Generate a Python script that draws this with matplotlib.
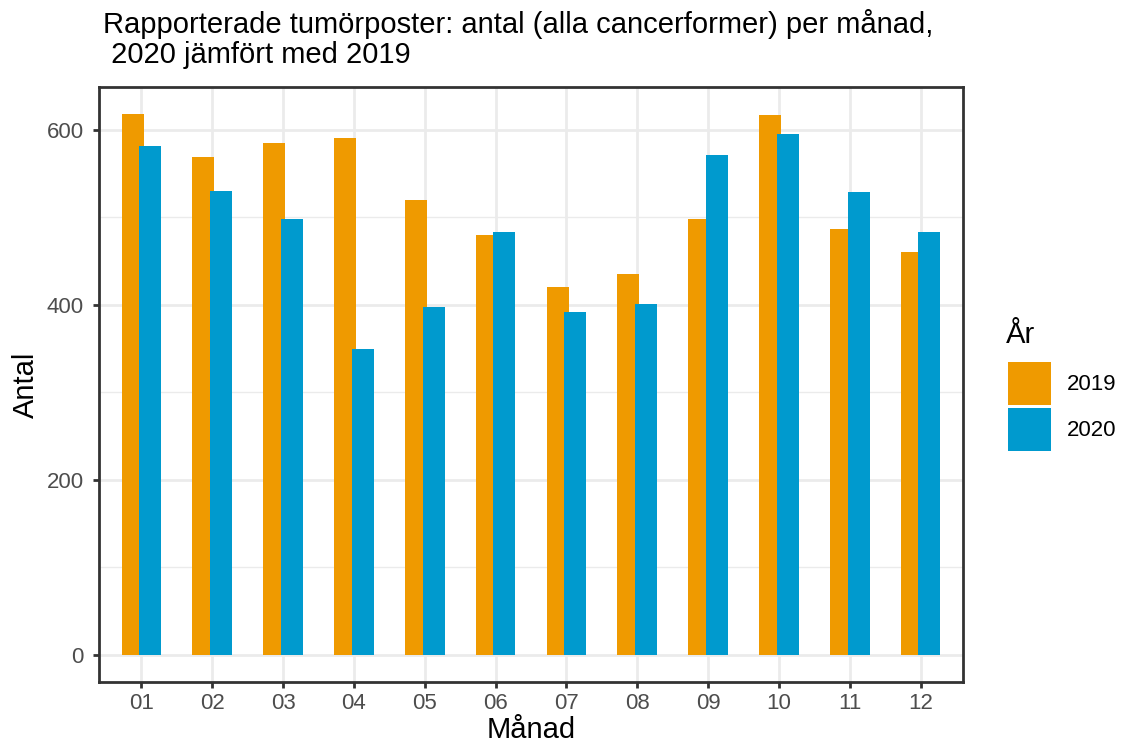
import matplotlib
matplotlib.use("Agg")
import matplotlib.pyplot as plt
import numpy as np
from matplotlib.patches import Patch

plt.rcParams['font.family'] = ['Liberation Sans', 'DejaVu Sans']

months = ["01", "02", "03", "04", "05", "06", "07", "08", "09", "10", "11", "12"]
values_2019 = [618, 569, 585, 591, 520, 480, 420, 435, 498, 617, 487, 460]
values_2020 = [582, 530, 498, 349, 398, 483, 392, 401, 571, 595, 529, 483]
years = ["2019", "2020"]
colors = ["#EF9A00", "#009ACE"]
title_lines = ["Rapporterade tumörposter: antal (alla cancerformer) per månad,",
               " 2020 jämfört med 2019"]
legend_title = "År"

W, H = 1124, 748
fig = plt.figure(figsize=(W/100, H/100), dpi=100)
ax = fig.add_axes([99/W, 1-682/H, (963-99)/W, (682-87)/H])

x = np.arange(len(months))
w = 0.31
off = 0.125
ax.bar(x - off, values_2019, width=w, color=colors[0], zorder=2, linewidth=0)
ax.bar(x + off, values_2020, width=w, color=colors[1], zorder=3, linewidth=0)

ymax = max(max(values_2019), max(values_2020))
ax.set_ylim(-0.05*ymax, 1.05*ymax)
ax.set_xlim(-0.6, len(months) - 1 + 0.6)

ax.set_yticks([0, 200, 400, 600])
ax.set_yticks([100, 300, 500], minor=True)
ax.set_xticks(x)
ax.set_xticklabels(months)

ax.grid(True, which='major', color='#EBEBEB', linewidth=2.0, zorder=0)
ax.grid(True, which='minor', axis='y', color='#EBEBEB', linewidth=1.0, zorder=0)
ax.set_axisbelow(True)
ax.tick_params(axis='both', which='major', length=4.5, width=2, color='#333333',
               labelsize=16, labelcolor='#4D4D4D')
ax.tick_params(axis='y', which='major', pad=6.5)
ax.tick_params(axis='x', which='major', pad=3.5)
ax.tick_params(axis='y', which='minor', length=0)
for s in ax.spines.values():
    s.set_color('#333333')
    s.set_linewidth(2)
    s.set_zorder(5)

ax.set_xlabel("Månad", fontsize=21, color='black', labelpad=1)
ax.set_ylabel("Antal", fontsize=21, color='black', labelpad=5)

fig.text(103/W, 1-33/H, title_lines[0], fontsize=21, color='black', ha='left', va='baseline')
fig.text(103/W, 1-63/H, title_lines[1], fontsize=21, color='black', ha='left', va='baseline')

# legend
fig.text(1006/W, 1-343/H, legend_title, fontsize=21, color='black', ha='left', va='baseline')
handles = [Patch(facecolor=c, edgecolor='none', label=y) for c, y in zip(colors, years)]
leg = fig.legend(handles=handles, loc='upper left',
                 bbox_to_anchor=(1008/W, 1-362/H), frameon=False,
                 fontsize=16, handlelength=1.94, handleheight=2.6,
                 handletextpad=0.7, labelspacing=0.135, borderaxespad=0, borderpad=0)

fig.savefig("out.png", dpi=100)
